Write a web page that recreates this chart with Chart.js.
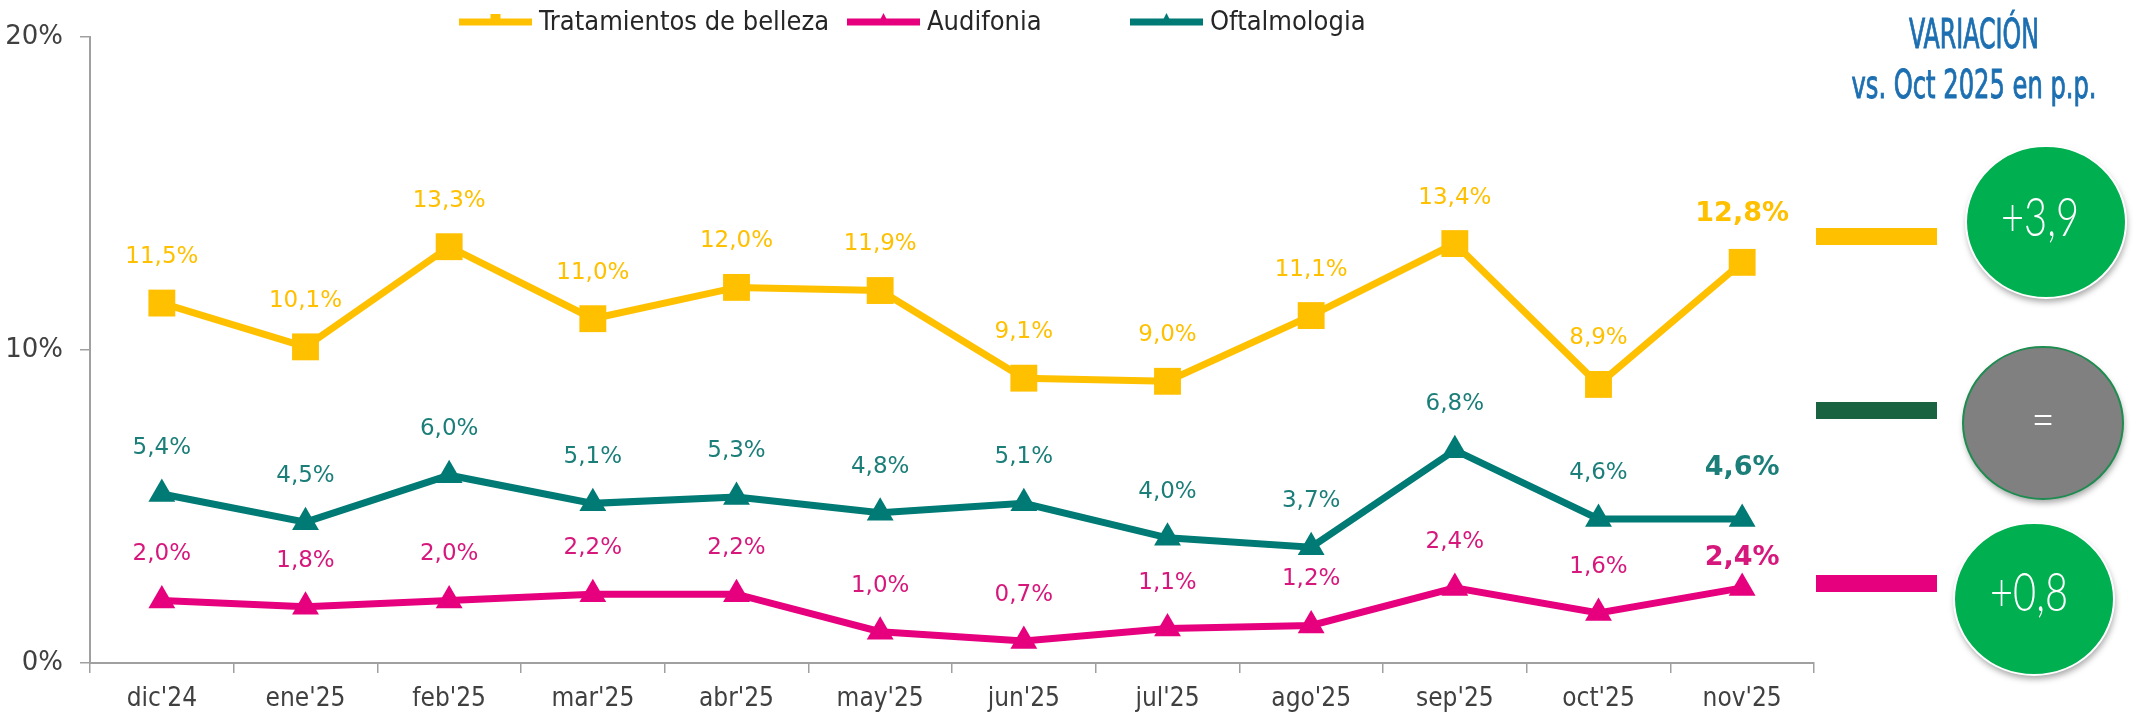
<!DOCTYPE html>
<html>
<head>
<meta charset="utf-8">
<script src="https://cdn.jsdelivr.net/npm/chart.js@4.4.1/dist/chart.umd.min.js"></script>
<style>
html,body{margin:0;padding:0;background:#fff;}
#wrap{width:2134px;height:717px;position:relative;}
</style>
</head>
<body>
<div id="wrap"><canvas id="myCanvas" width="2134" height="717"></canvas></div>
<script>
// datos
var categories = ["dic'24","ene'25","feb'25","mar'25","abr'25","may'25","jun'25","jul'25","ago'25","sep'25","oct'25","nov'25"];
var belleza = [11.5, 10.1, 13.3, 11.0, 12.0, 11.9, 9.1, 9.0, 11.1, 13.4, 8.9, 12.8];
var audifonia = [2.0, 1.8, 2.0, 2.2, 2.2, 1.0, 0.7, 1.1, 1.2, 2.4, 1.6, 2.4];
var oftalmologia = [5.4, 4.5, 6.0, 5.1, 5.3, 4.8, 5.1, 4.0, 3.7, 6.8, 4.6, 4.6];
var yTicks = [0, 10, 20];
var variacion = ['+3,9', '=', '+0,8'];
var tituloVariacion = ['VARIACIÓN', 'vs. Oct 2025 en p.p.'];

var YELLOW = '#FFC000', PINK = '#E6007E', TEAL = '#007A74';
var NARROW = '"Liberation Sans Narrow", "DejaVu Sans Condensed", sans-serif';

function fmt(v){
	return v.toFixed(1).replace('.', ',') + '%';
}

// etiquetas de datos encima de cada punto
var dataLabels = {
	id: 'dataLabels',
	afterDatasetsDraw: function(chart){
		var ctx = chart.ctx;
		chart.data.datasets.forEach(function(ds, i){
			var meta = chart.getDatasetMeta(i);
			meta.data.forEach(function(pt, j){
				var last = j === meta.data.length - 1;
				ctx.save();
				ctx.font = last ? 'bold 27px "DejaVu Sans"' : '23px "DejaVu Sans"';
				ctx.fillStyle = ds.labelColor;
				ctx.textAlign = 'center';
				ctx.textBaseline = 'middle';
				ctx.fillText(fmt(ds.data[j]), pt.x, pt.y - (last ? ds.lastOffset : 46));
				ctx.restore();
			});
		});
	}
};

// leyenda arriba
var topLegend = {
	id: 'topLegend',
	afterDraw: function(chart){
		var ctx = chart.ctx;
		var starts = [459, 847, 1130];
		var y = 22;
		chart.data.datasets.forEach(function(ds, i){
			var x = starts[i];
			ctx.save();
			ctx.fillStyle = ds.borderColor;
			ctx.fillRect(x, y - 3.5, 73, 7);
			ctx.beginPath();
			if (ds.pointStyle === 'rect') {
				ctx.rect(x + 36.5 - 5, y - 8, 10, 10);
			} else {
				ctx.moveTo(x + 36.5, y - 9);
				ctx.lineTo(x + 42, y + 2);
				ctx.lineTo(x + 31, y + 2);
			}
			ctx.fill();
			ctx.font = '27px ' + NARROW;
			ctx.fillStyle = '#262626';
			ctx.textBaseline = 'middle';
			ctx.fillText(ds.label, x + 80, y + 1);
			ctx.restore();
		});
	}
};

// panel derecho: variacion
var sidePanel = {
	id: 'sidePanel',
	afterDraw: function(chart){
		var ctx = chart.ctx;
		ctx.save();
		ctx.fillStyle = '#1C6FB1';
		ctx.strokeStyle = '#1C6FB1';
		ctx.lineWidth = 0.9;
		ctx.textAlign = 'center';
		ctx.textBaseline = 'middle';
		var tw = [130, 245], ty = [38, 88], fs = [40, 39];
		tituloVariacion.forEach(function(t, i){
			ctx.save();
			ctx.font = fs[i] + 'px ' + NARROW;
			var w = ctx.measureText(t).width;
			ctx.translate(1974, ty[i]);
			ctx.scale(tw[i] / w, 1);
			ctx.fillText(t, 0, 0);
			ctx.strokeText(t, 0, 0);
			ctx.restore();
		});

		var bars = [{y: 228, c: YELLOW}, {y: 402, c: '#1A6340'}, {y: 575, c: PINK}];
		bars.forEach(function(b){
			ctx.fillStyle = b.c;
			ctx.fillRect(1816, b.y, 121, 17);
		});

		var circles = [
			{x: 2046, y: 222, fill: '#00B050', stroke: '#ffffff', tx: 2040, ty: 219},
			{x: 2043, y: 423, fill: '#808080', stroke: '#1E8C50', tx: 2043, ty: 421},
			{x: 2034, y: 599, fill: '#00B050', stroke: '#ffffff', tx: 2029, ty: 594}
		];
		ctx.font = '300 54px Lato';
		var sx = 78 / ctx.measureText(variacion[0]).width;
		circles.forEach(function(c, i){
			ctx.save();
			ctx.shadowColor = 'rgba(0,0,0,0.35)';
			ctx.shadowBlur = 6;
			ctx.shadowOffsetX = 1;
			ctx.shadowOffsetY = 4;
			ctx.beginPath();
			ctx.ellipse(c.x, c.y, 80, 76, 0, 0, Math.PI * 2);
			ctx.fillStyle = c.fill;
			ctx.fill();
			ctx.restore();
			ctx.beginPath();
			ctx.ellipse(c.x, c.y, 80, 76, 0, 0, Math.PI * 2);
			ctx.lineWidth = 2;
			ctx.strokeStyle = c.stroke;
			ctx.stroke();
			ctx.save();
			ctx.fillStyle = '#ffffff';
			ctx.font = '300 54px Lato';
			ctx.translate(c.tx, c.ty);
			ctx.scale(sx, 1);
			ctx.fillText(variacion[i], 0, 0);
			ctx.restore();
		});
		ctx.restore();
	}
};

var ctx = document.getElementById('myCanvas');
var chart = new Chart(ctx, {
	type: 'line',
	data: {
		labels: categories,
		datasets: [
			{
				label: 'Tratamientos de belleza',
				data: belleza,
				borderColor: YELLOW,
				backgroundColor: YELLOW,
				labelColor: YELLOW,
				lastOffset: 48,
				borderWidth: 7,
				pointStyle: 'rect',
				pointRadius: 19,
				pointBorderWidth: 0,
				tension: 0
			},
			{
				label: 'Audifonia',
				data: audifonia,
				borderColor: PINK,
				backgroundColor: PINK,
				labelColor: '#D6187C',
				lastOffset: 30,
				borderWidth: 7,
				pointStyle: 'triangle',
				pointRadius: 15.5,
				pointBorderWidth: 0,
				tension: 0
			},
			{
				label: 'Oftalmologia',
				data: oftalmologia,
				borderColor: TEAL,
				backgroundColor: TEAL,
				labelColor: '#1B7E79',
				lastOffset: 51,
				borderWidth: 7,
				pointStyle: 'triangle',
				pointRadius: 15.5,
				pointBorderWidth: 0,
				tension: 0
			}
		]
	},
	options: {
		responsive: false,
		animation: false,
		devicePixelRatio: 1,
		layout: {padding: {top: 37, right: 320, left: 0, bottom: 0}},
		plugins: {
			legend: {display: false},
			tooltip: {enabled: false}
		},
		scales: {
			x: {
				offset: true,
				grid: {offset: true, drawOnChartArea: false, drawTicks: true, tickLength: 10, color: '#A0A0A0', lineWidth: 1.5},
				border: {display: true, color: '#A0A0A0', width: 2},
				ticks: {color: '#404040', font: {family: NARROW, size: 26}, padding: 11, maxRotation: 0},
				afterFit: function(scale){ scale.height = 54; }
			},
			y: {
				min: 0,
				max: 20,
				afterBuildTicks: function(scale){
					scale.ticks = yTicks.map(function(v){ return {value: v}; });
				},
				grid: {drawOnChartArea: false, drawTicks: true, tickLength: 10, color: '#A0A0A0', lineWidth: 1.5},
				border: {display: true, color: '#A0A0A0', width: 2},
				ticks: {
					color: '#404040',
					font: {family: '"DejaVu Sans"', size: 26},
					padding: 17,
					callback: function(v){ return v + '%'; }
				},
				afterFit: function(scale){ scale.width = 90; }
			}
		}
	},
	plugins: [dataLabels, topLegend, sidePanel]
});
</script>
</body>
</html>
